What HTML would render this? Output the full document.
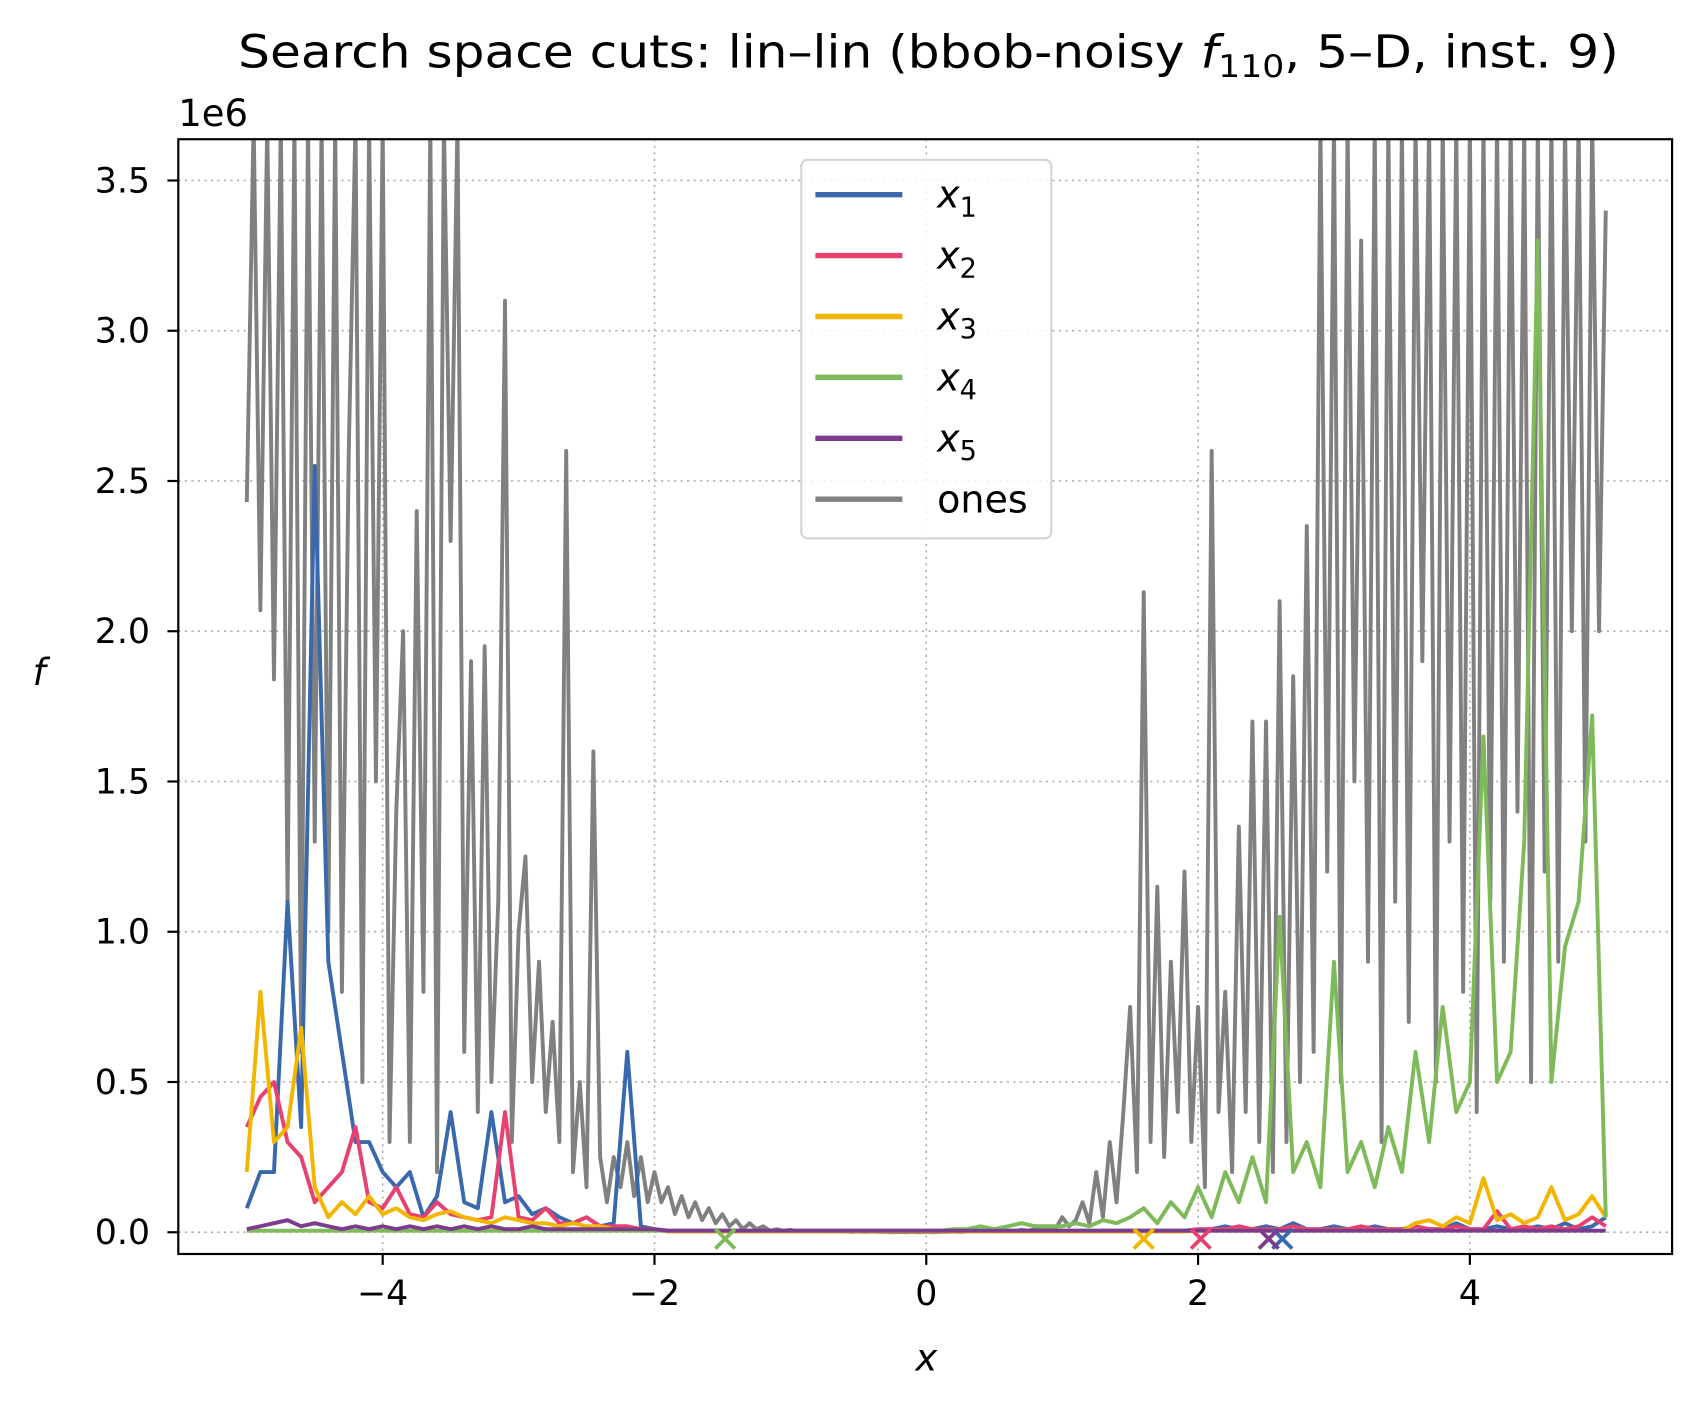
<!DOCTYPE html>
<html><head><meta charset="utf-8"><style>
html,body{margin:0;padding:0;background:#fff;}
svg{display:block;font-family:"DejaVu Sans","Liberation Sans",sans-serif;}
</style></head><body>
<svg id="chart" width="1696" height="1403" viewBox="0 0 1560 1290" preserveAspectRatio="none" xmlns="http://www.w3.org/2000/svg">
<defs><clipPath id="clip"><rect x="164" y="128" width="1374" height="1025"/></clipPath></defs>
<rect x="0" y="0" width="1560" height="1290" fill="#fff"/>
<text x="854" y="62" font-size="42" text-anchor="middle" textLength="1270" lengthAdjust="spacingAndGlyphs">Search space cuts: lin–lin (bbob-noisy <tspan font-style="italic">f</tspan><tspan font-size="29" dy="9">110</tspan><tspan dy="-9">, 5–D, inst. 9)</tspan></text>
<text x="164" y="116" font-size="34">1e6</text>
<g id="grid"></g>
<g id="series" clip-path="url(#clip)"></g>
<g id="markers"></g>
<rect x="164" y="128" width="1374" height="1025" fill="none" stroke="#000" stroke-width="2"/>
<g id="ticks"></g>
<text x="852" y="1260" font-size="34" font-style="italic" text-anchor="middle">x</text>
<text x="36" y="630" font-size="34" font-style="italic" text-anchor="middle">f</text>
<g>
<rect x="737" y="147" width="230" height="348" rx="6" fill="#fff" fill-opacity="0.85" stroke="#d6d6d6" stroke-width="2"/>
<g id="legend-entries"></g>
</g>
</svg>
<script>
const xStart = -5, step = 0.1, grayStep = 0.05;
const xTicks = [-4, -2, 0, 2, 4];
const xTickLabels = ["\u22124", "\u22122", "0", "2", "4"];
const yTicks = [0, 0.5, 1.0, 1.5, 2.0, 2.5, 3.0, 3.5];
const yTickLabels = ["0.0", "0.5", "1.0", "1.5", "2.0", "2.5", "3.0", "3.5"];
const seriesNames = ["x1", "x2", "x3", "x4", "x5", "ones"];
const seriesColors = ["#3a68ad", "#e8406f", "#f2b600", "#7eba5a", "#7c3b8c", "#808080"];
const optimaX = [2.62, 2.02, 1.6, -1.48, 2.52];
const x1Vals = [0.08,0.2,0.2,1.1,0.35,2.55,0.9,0.6,0.3,0.3,0.2,0.15,0.2,0.05,0.12,0.4,0.1,0.08,0.4,0.1,0.12,0.06,0.08,0.05,0.03,0.05,0.02,0.03,0.6,0.02,0.01,
0.005,0.005,0.005,0.005,0.005,0.005,0.005,0.005,0.005,0.005,0.005,0.005,0.005,0.005,0.005,0.005,0.005,0.005,0.005,0.005,0.005,0.005,0.005,0.005,0.005,0.005,0.005,0.005,0.005,0.005,0.005,0.005,0.005,0.005,0.005,0.005,0.005,0.005,0.005,
0.01,0.01,0.02,0.01,0.01,0.02,0.01,0.03,0.01,0.01,0.02,0.01,0.01,0.02,0.01,0.01,0.02,0.01,0.01,0.03,0.01,0.01,0.02,0.01,0.01,0.02,0.01,0.03,0.01,0.02,0.05];
const x2Vals = [0.35,0.45,0.5,0.3,0.25,0.1,0.15,0.2,0.35,0.1,0.08,0.15,0.06,0.05,0.1,0.06,0.05,0.04,0.05,0.4,0.05,0.04,0.08,0.03,0.03,0.05,0.02,0.02,0.02,0.01,0.01,
0.003,0.003,0.003,0.003,0.003,0.003,0.003,0.003,0.003,0.003,0.003,0.003,0.003,0.003,0.003,0.003,0.003,0.003,0.003,0.003,0.003,0.003,0.003,0.003,0.003,0.003,0.003,0.003,0.003,0.003,0.003,0.003,0.003,0.003,0.003,0.003,0.003,0.003,0.003,
0.01,0.01,0.01,0.02,0.01,0.01,0.01,0.02,0.01,0.01,0.01,0.01,0.02,0.01,0.01,0.01,0.02,0.01,0.01,0.02,0.01,0.01,0.07,0.01,0.02,0.01,0.02,0.01,0.02,0.05,0.02];
const x3Vals = [0.2,0.8,0.3,0.35,0.68,0.15,0.05,0.1,0.06,0.12,0.06,0.08,0.05,0.04,0.06,0.07,0.05,0.04,0.03,0.05,0.04,0.03,0.03,0.02,0.03,0.02,0.02,0.01,0.01,0.01,0.01,
0.003,0.003,0.003,0.003,0.003,0.003,0.003,0.003,0.003,0.003,0.003,0.003,0.003,0.003,0.003,0.003,0.003,0.003,0.003,0.003,0.003,0.003,0.003,0.003,0.003,0.003,0.003,0.003,0.003,0.003,0.003,0.003,0.003,0.003,0.003,0.003,0.003,0.003,0.003,
0.005,0.005,0.005,0.005,0.005,0.005,0.005,0.005,0.005,0.005,0.005,0.005,0.005,0.005,0.005,0.005,
0.03,0.04,0.02,0.05,0.03,0.18,0.04,0.06,0.03,0.05,0.15,0.04,0.06,0.12,0.05];
const x4Vals = [0.005,0.005,0.005,0.005,0.005,0.005,0.005,0.005,0.005,0.005,0.005,0.005,0.005,0.005,0.005,0.005,0.005,0.005,0.005,0.005,0.005,0.005,0.005,0.005,0.005,0.005,0.005,0.005,0.005,0.005,0.005,0.005,0.005,0.005,0.005,0.005,0.005,0.005,0.005,0.005,0.005,0.005,0.005,0.005,0.005,0.005,0.005,0.005,0.005,0.005,
0.005,0.005,0.01,0.01,0.02,0.01,0.02,0.03,0.02,0.02,
0.02,0.03,0.02,0.04,0.03,0.05,0.08,0.03,0.1,0.05,0.15,0.05,0.2,0.1,0.25,0.1,1.05,0.2,0.3,0.15,0.9,0.2,0.3,0.15,0.35,0.2,
0.6,0.3,0.75,0.4,0.5,1.65,0.5,0.6,1.3,3.3,0.5,0.95,1.1,1.72,0.05];
const x5Vals = [0.01,0.02,0.03,0.04,0.02,0.03,0.02,0.01,0.02,0.01,0.02,0.01,0.02,0.01,0.02,0.01,0.02,0.01,0.02,0.01,0.01,0.02,0.01,0.01,0.01,0.01,0.01,0.01,0.01,0.01,0.01,
0.005,0.005,0.005,0.005,0.005,0.005,0.005,0.005,0.005,0.005,0.005,0.005,0.005,0.005,0.005,0.005,0.005,0.005,0.005,0.005,0.005,0.005,0.005,0.005,0.005,0.005,0.005,0.005,0.005,0.005,0.005,0.005,0.005,0.005,0.005,0.005,0.005,0.005,0.005,
0.005,0.005,0.005,0.005,0.005,0.005,0.005,0.005,0.005,0.005,0.005,0.005,0.005,0.005,0.005,0.005,0.005,0.005,0.005,0.005,0.005,0.005,0.005,0.005,0.005,0.005,0.005,0.005,0.005,0.005,0.005];
const onesVals = [2.43,3.7,2.07,3.7,1.84,3.7,1.1,3.7,0.6,3.7,1.3,3.7,1.0,3.7,0.8,2.6,3.7,0.5,3.7,1.5,3.7,0.3,1.4,2.0,0.3,2.4,0.8,3.7,0.2,3.7,2.3,3.7,0.6,1.9,0.4,1.95,0.5,1.1,3.1,0.3,1.0,1.25,0.5,0.9,0.4,0.7,0.3,2.6,0.2,0.5,0.15,1.6,0.25,0.1,0.25,0.15,0.3,0.12,0.25,0.1,0.2,0.1,0.15,0.06,0.12,0.05,0.1,0.04,0.08,0.03,0.06,0.02,0.04,0.01,0.03,0.01,0.02,0.005,0.01,
0.005,0.008,0.004,0.006,0.003,0.005,0.002,0.004,0.002,0.003,0.001,0.002,0.001,0.002,0.001,0.001,0.0,0.001,0.0,0.001,0.0,0.001,0.0,0.001,0.001,0.002,0.001,0.002,0.002,0.003,0.002,0.004,0.003,0.005,0.004,0.008,0.005,0.01,0.008,0.015,0.01,
0.05,0.02,0.04,0.1,0.03,0.2,0.05,0.3,0.1,0.4,0.75,0.2,2.13,0.3,1.15,0.25,0.9,0.4,1.2,0.3,0.75,0.15,2.6,0.4,0.8,0.2,1.35,0.4,1.7,0.3,1.7,0.2,2.1,0.3,1.85,0.5,2.35,0.6,3.7,1.2,3.7,0.5,3.7,1.5,3.3,0.9,3.7,0.3,3.7,1.1,3.7,0.7,3.7,1.9,3.7,0.5,3.7,1.3,3.7,0.8,3.7,0.4,3.7,1.1,3.7,0.9,3.7,1.4,3.7,0.5,3.7,1.2,3.7,0.9,3.7,2.0,3.7,1.3,3.7,2.0,3.4];

const NS = "http://www.w3.org/2000/svg";
const xPx = v => 852 + v * 125;
const yPx = v => 1133 - v * 276.3;
function mk(tag, attrs, parent) { const e = document.createElementNS(NS, tag); for (const k in attrs) e.setAttribute(k, attrs[k]); parent.appendChild(e); return e; }

const grid = document.getElementById("grid"), ticks = document.getElementById("ticks");
xTicks.forEach((t, i) => {
  const g = mk("line", {x1: xPx(t), x2: xPx(t), y1: 128, y2: 1153, stroke: "#b0b0b0", "stroke-width": 1.5, "stroke-dasharray": "2,4"}, grid);
  
  
  const tk = mk("line", {x1: xPx(t), x2: xPx(t), y1: 1153, y2: 1163, stroke: "#000", "stroke-width": 2}, ticks);
  
  
  const lb = mk("text", {x: xPx(t), y: 1200, "font-size": 32, "text-anchor": "middle"}, ticks);
  lb.textContent = xTickLabels[i];
  
  
});
yTicks.forEach((t, i) => {
  const g = mk("line", {x1: 164, x2: 1538, y1: yPx(t), y2: yPx(t), stroke: "#b0b0b0", "stroke-width": 1.5, "stroke-dasharray": "2,4"}, grid);
  
  
  const tk = mk("line", {x1: 154, x2: 164, y1: yPx(t), y2: yPx(t), stroke: "#000", "stroke-width": 2}, ticks);
  
  
  const lb = mk("text", {x: 138, y: yPx(t) + 11, "font-size": 32, "text-anchor": "end"}, ticks);
  lb.textContent = yTickLabels[i];
  
  
});

const series = document.getElementById("series");
function drawLine(vals, st, color, name) {
  const pts = vals.map((v, i) => xPx(xStart + i * st).toFixed(1) + "," + yPx(v).toFixed(1)).join(" ");
  const p = mk("polyline", {points: pts, fill: "none", stroke: color, "stroke-width": 3.6, "stroke-linejoin": "round"}, series);
  
  
}
drawLine(onesVals, grayStep, seriesColors[5], "line-ones");
drawLine(x1Vals, step, seriesColors[0], "line-x1");
drawLine(x2Vals, step, seriesColors[1], "line-x2");
drawLine(x3Vals, step, seriesColors[2], "line-x3");
drawLine(x4Vals, step, seriesColors[3], "line-x4");
drawLine(x5Vals, step, seriesColors[4], "line-x5");

const markers = document.getElementById("markers");
optimaX.forEach((ox, i) => {
  const cx = xPx(ox), cy = yPx(0) + 6, s = 9;
  const m = mk("path", {d: `M${cx-s},${cy-s}L${cx+s},${cy+s}M${cx-s},${cy+s}L${cx+s},${cy-s}`, stroke: seriesColors[i], "stroke-width": 3.5, fill: "none"}, markers);
  
  
});

const leg = document.getElementById("legend-entries");
const legY = [179, 235, 291, 347, 403, 459];
seriesNames.forEach((n, i) => {
  const l = mk("line", {x1: 750, x2: 830, y1: legY[i], y2: legY[i], stroke: seriesColors[i], "stroke-width": 5}, leg);
  
  
  const t = mk("text", {x: 862, y: legY[i] + 12, "font-size": 35}, leg);
  if (n === "ones") { t.textContent = "ones"; }
  else {
    const a = mk("tspan", {"font-style": "italic"}, t); a.textContent = "x";
    const b = mk("tspan", {"font-size": 25, dy: 8}, t); b.textContent = n.slice(1);
  }
  
  
});
</script>
</body></html>
